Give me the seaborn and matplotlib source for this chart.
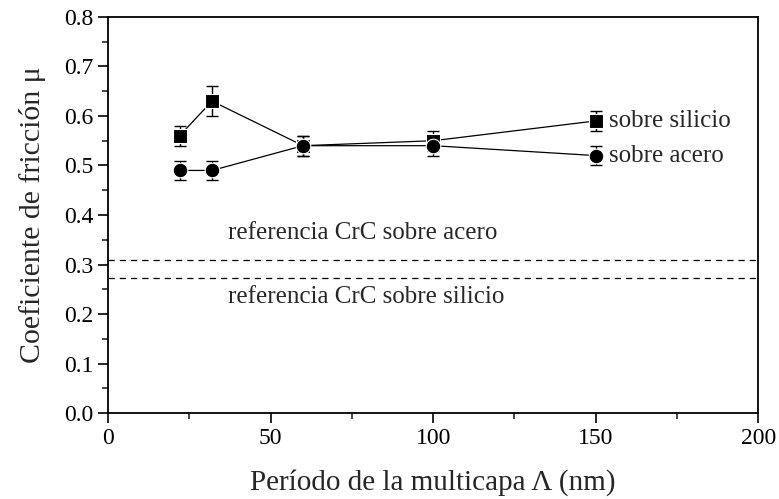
import matplotlib
matplotlib.use("Agg")
import matplotlib.pyplot as plt
from matplotlib.ticker import MultipleLocator, FormatStrFormatter
import seaborn as sns
import pandas as pd

# data
periodo = [22, 32, 60, 100, 150]
mu_silicio = [0.56, 0.63, 0.54, 0.55, 0.59]
err_silicio = [0.02, 0.03, 0.02, 0.02, 0.02]
mu_acero = [0.49, 0.49, 0.54, 0.54, 0.52]
err_acero = [0.02, 0.02, 0.02, 0.02, 0.02]
ref_acero = 0.31
ref_silicio = 0.272

sns.set_theme(style="ticks")
plt.rcParams['font.family'] = ['Liberation Serif', 'DejaVu Serif']

fig = plt.figure(figsize=(7.79, 4.99), dpi=100)
ax = fig.add_axes([0.1386, 0.1723, 0.8348, 0.7937])

df = pd.DataFrame({
    "x": periodo * 2,
    "mu": mu_silicio + mu_acero,
    "serie": ["silicio"] * 5 + ["acero"] * 5,
})

sns.lineplot(data=df, x="x", y="mu", hue="serie", style="serie",
             markers={"silicio": "s", "acero": "o"}, dashes=False,
             palette={"silicio": "black", "acero": "black"},
             markersize=10.5, markeredgecolor="white", markeredgewidth=0.8,
             linewidth=0.9, legend=False, ax=ax, zorder=3)

ax.errorbar(periodo, mu_silicio, yerr=err_silicio, fmt="none", ecolor="black",
            elinewidth=1, capsize=4, capthick=1, zorder=2)
ax.errorbar(periodo, mu_acero, yerr=err_acero, fmt="none", ecolor="black",
            elinewidth=1, capsize=4, capthick=1, zorder=2)

# reference values of CrC
ax.axhline(ref_acero, color="black", lw=0.9, ls=(0, (5, 4)))
ax.axhline(ref_silicio, color="black", lw=0.9, ls=(0, (5, 4)))

ax.text(37, 0.364, "referencia CrC sobre acero", fontsize=18, va="center")
ax.text(37, 0.234, "referencia CrC sobre silicio", fontsize=18, va="center")
ax.text(154, 0.59, "sobre silicio", fontsize=18, va="center")
ax.text(154, 0.52, "sobre acero", fontsize=18, va="center")

ax.set_xlim(0, 200)
ax.set_ylim(0, 0.8)
ax.xaxis.set_major_locator(MultipleLocator(50))
ax.xaxis.set_minor_locator(MultipleLocator(25))
ax.yaxis.set_major_locator(MultipleLocator(0.1))
ax.yaxis.set_minor_locator(MultipleLocator(0.05))
ax.yaxis.set_major_formatter(FormatStrFormatter("%.1f"))

ax.tick_params(which="major", direction="out", length=7, width=1.2,
               labelsize=17, colors="black")
ax.tick_params(which="minor", direction="out", length=4, width=1.2)
for s in ax.spines.values():
    s.set_linewidth(1.3)
    s.set_color("black")

ax.set_xlabel("Período de la multicapa Λ (nm)", fontsize=21, labelpad=15)
ax.set_ylabel("Coeficiente de fricción μ", fontsize=21.5, labelpad=13)

fig.savefig("out.png", dpi=100)
